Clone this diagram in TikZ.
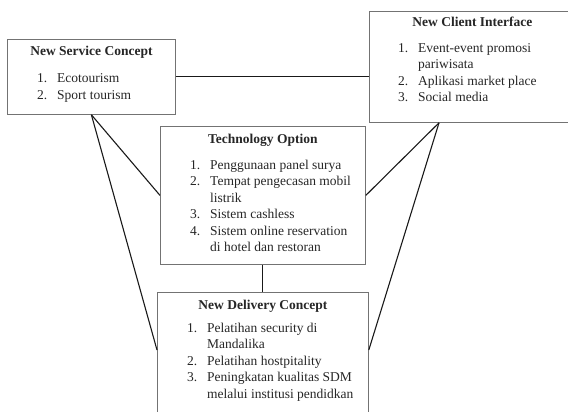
\documentclass[tikz,border=0pt]{standalone}
\usepackage{fontspec}
\setmainfont{Liberation Serif}
\usetikzlibrary{positioning}
\tikzset{
    %Define style for boxes
    kotak/.style={
           rectangle,
           draw=black!55, line width=0.8pt,
           inner sep=0pt},
    %Define style for box titles
    judul/.style={
           font=\fontsize{13.5pt}{16.5pt}\selectfont\bfseries,
           text=black!85,
           anchor=base,
           inner sep=0pt},
    %Define style for numbered lists
    daftar/.style={
           font=\fontsize{13.5pt}{16.5pt}\selectfont,
           text=black!85,
           align=left,
           anchor=north west,
           inner sep=0pt},
    % Define line style
    garis/.style={
           line width=1.1pt,
           black!90}
}
\newcommand{\nomor}[1]{\makebox[20pt][l]{#1}}
\newcommand{\lanjut}{\hspace*{20pt}}

\begin{document}
\begin{tikzpicture}[x=1pt,y=-1pt]
\useasboundingbox (0,0) rectangle (568,412);
 %boxes
\node[kotak, minimum width=168pt, minimum height=75pt, anchor=north west] (service) at (7,39) {};
\node[kotak, minimum width=206pt, minimum height=111pt, anchor=north west] (client) at (369,11) {};
\node[kotak, minimum width=205pt, minimum height=138pt, anchor=north west] (tech) at (160,126) {};
\node[kotak, minimum width=211pt, minimum height=130pt, anchor=north west] (delivery) at (157,292) {};

 %titles
\node[judul] (serviceT) at ([yshift=-17pt]service.north) {New Service Concept};
\node[judul] (clientT) at ([yshift=-16pt]client.north) {New Client Interface};
\node[judul] (techT) at ([yshift=-17pt]tech.north) {Technology Option};
\node[judul] (deliveryT) at ([yshift=-17pt]delivery.north) {New Delivery Concept};

 %lists
\node[daftar] (serviceL) at ([xshift=30pt,yshift=-32pt]service.north west)
  {\strut\nomor{1.}Ecotourism\\ \nomor{2.}Sport tourism};
\node[daftar] (clientL) at ([xshift=29pt,yshift=-29.5pt]client.north west)
  {\strut\nomor{1.}Event-event promosi\\ \lanjut pariwisata\\ \nomor{2.}Aplikasi market place\\ \nomor{3.}Social media};
\node[daftar] (techL) at ([xshift=30pt,yshift=-31.5pt]tech.north west)
  {\strut\nomor{1.}Penggunaan panel surya\\ \nomor{2.}Tempat pengecasan mobil\\ \lanjut listrik\\ \nomor{3.}Sistem cashless\\ \nomor{4.}Sistem online reservation\\ \lanjut di hotel dan restoran};
\node[daftar] (deliveryL) at ([xshift=30pt,yshift=-28.5pt]delivery.north west)
  {\strut\nomor{1.}Pelatihan security di\\ \lanjut Mandalika\\ \nomor{2.}Pelatihan hostpitality\\ \nomor{3.}Peningkatan kualitas SDM\\ \lanjut melalui institusi pendidkan};

 %connectors
\path[garis]
    (service.east) edge (service.east -| client.west)
    (service.south) edge (tech.west)
                    edge ([yshift=-58pt]delivery.north west)
    ([xshift=70pt]client.south west) edge (tech.east)
                    edge ([yshift=-58pt]delivery.north east)
    (tech.south) edge (delivery.north);

\end{tikzpicture}
\end{document}
